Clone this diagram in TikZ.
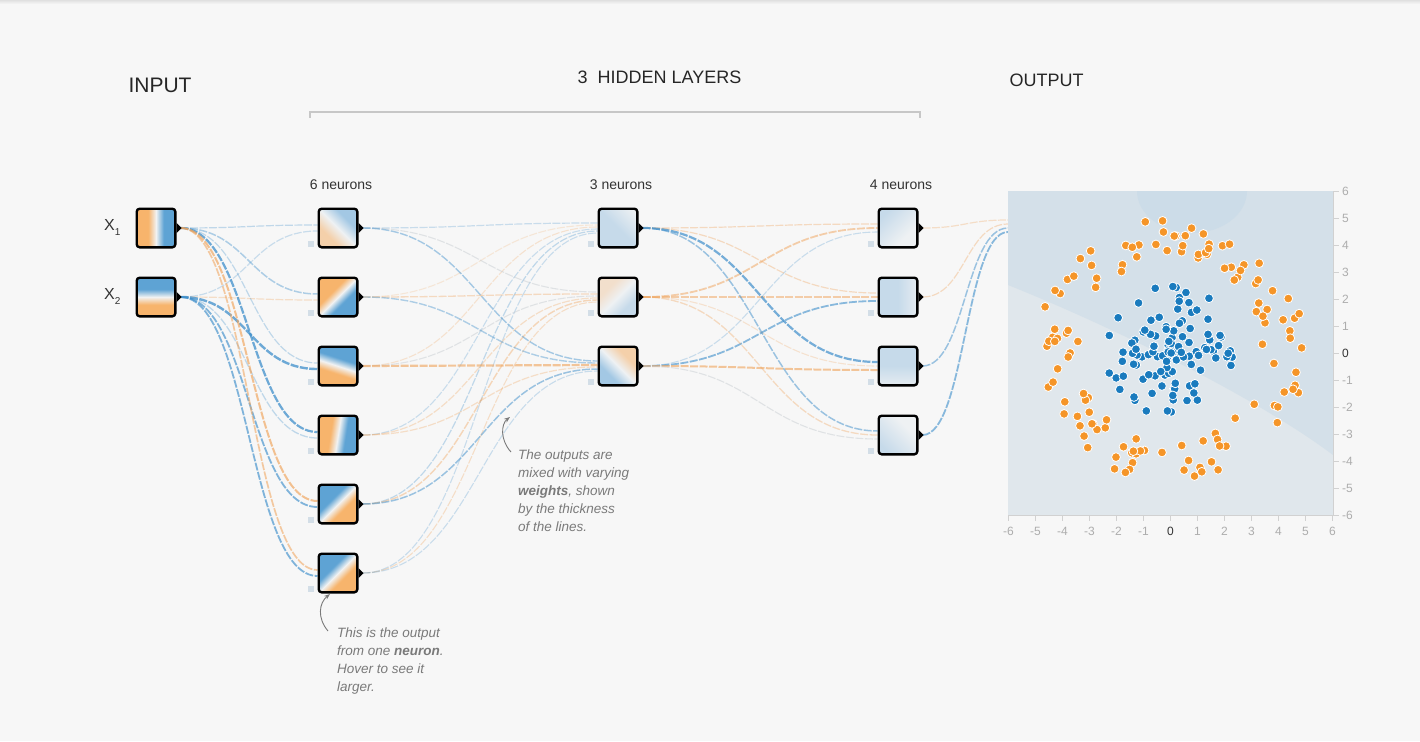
\documentclass[tikz,border=0pt]{standalone}
\usepackage{fontspec}
\setmainfont{Liberation Sans}
\usetikzlibrary{calc,arrows.meta}
\definecolor{bgc}{HTML}{F7F7F7}
\definecolor{sOr}{HTML}{F7B46C}
\definecolor{sBl}{HTML}{5EA3D4}
\definecolor{sWh}{HTML}{F1F2F2}
\definecolor{mOr}{HTML}{F4D0AA}
\definecolor{mBl}{HTML}{A3C8E4}
\definecolor{pOr}{HTML}{F2DFCC}
\definecolor{pOrL}{HTML}{F1E7DD}
\definecolor{pWh}{HTML}{EEF1F3}
\definecolor{pBl}{HTML}{C6DAEA}
\definecolor{lnBlue}{HTML}{3F8FCB}
\definecolor{lnOr}{HTML}{F0A35A}
\definecolor{lnGrey}{HTML}{C9CED3}
\definecolor{dotBlue}{HTML}{1A7BBE}
\definecolor{dotOr}{HTML}{F59528}
\definecolor{txtgrey}{HTML}{7A7A7A}
\definecolor{tickc}{HTML}{ADADAD}
\definecolor{sqc}{HTML}{D3DEE7}
\definecolor{plLight}{HTML}{E0E7EC}
\definecolor{plMid}{HTML}{D4E0E9}
\definecolor{plDark}{HTML}{CCDCE8}
\pgfdeclarehorizontalshading{hmStrong}{100bp}{color(0bp)=(sOr); color(40bp)=(sOr); color(50bp)=(sWh); color(60bp)=(sBl); color(100bp)=(sBl)}
\pgfdeclarehorizontalshading{hmMed}{100bp}{color(0bp)=(mOr); color(34bp)=(mOr); color(50bp)=(pWh); color(66bp)=(mBl); color(100bp)=(mBl)}
\pgfdeclarehorizontalshading{hmPale}{100bp}{color(0bp)=(pOr); color(33bp)=(pOr); color(50bp)=(pWh); color(67bp)=(pBl); color(100bp)=(pBl)}
\pgfdeclarehorizontalshading{hmBlueEdge}{100bp}{color(0bp)=(pBl); color(50bp)=(pBl); color(82bp)=(pWh); color(100bp)=(pOrL)}
\pgfdeclarehorizontalshading{hmVPale}{100bp}{color(0bp)=(pWh); color(35bp)=(pWh); color(75bp)=(pBl); color(100bp)=(pBl)}
\pgfdeclarelayer{bglayer}
\pgfdeclarelayer{linklayer}
\pgfsetlayers{bglayer,linklayer,main}
\begin{document}
\begin{tikzpicture}[x=1pt,y=-1pt,
  neuron/.style={draw=black, line width=2.4pt, rounded corners=3pt, minimum size=38.6pt, inner sep=0pt, shade},
  diag/.style={to path={let \p1=(\tikztostart), \p2=(\tikztotarget) in .. controls ({(\x1+\x2)/2},\y1) and ({(\x1+\x2)/2},\y2) .. (\tikztotarget)}},
  link/.style={diag, dash pattern=on 8pt off 1.5pt},
  title/.style={font=\fontsize{18}{20}\selectfont, text=black!85},
  count/.style={font=\fontsize{14}{16}\selectfont, text=black!80},
  anno/.style={font=\fontsize{13.5}{18}\selectfont\itshape, text=txtgrey, align=left, anchor=north west, inner sep=0pt},
  annarrow/.style={draw=txtgrey, line width=0.9pt, -{Stealth[length=6pt,width=4.5pt]}},
  ticklbl/.style={font=\fontsize{12}{14}\selectfont, text=tickc, inner sep=0pt},
  dotB/.style={fill=dotBlue, draw=white, line width=0.8pt},
  dotO/.style={fill=dotOr, draw=white, line width=0.8pt}
]
\begin{pgfonlayer}{bglayer}
\fill[bgc] (0,0) rectangle (1420,741);
\fill[top color=black!12, bottom color=bgc] (0,0) rectangle (1420,4);
\end{pgfonlayer}
\useasboundingbox (0,0) rectangle (1420,741);

% titles
\node[title, font=\fontsize{21}{24}\selectfont] (tin) at (160,85) {INPUT};
\node[title] (thid) at (659.5,77) {3\ \ HIDDEN LAYERS};
\node[title] (tout) at (1046.5,80) {OUTPUT};
\draw[draw=black!22, line width=1.2pt] (310,118) -- (310,112) -- (920,112) -- (920,118);
\node[count] (n6) at (341,185) {6 neurons};
\node[count] (n3) at (621,185) {3 neurons};
\node[count] (n4) at (901,185) {4 neurons};

% input labels
\node[anchor=base west, inner sep=0pt, font=\fontsize{16}{18}\selectfont, text=black!80] (lx1) at (104,230) {X\raisebox{-5pt}{\fontsize{10}{10}\selectfont 1}};
\node[anchor=base west, inner sep=0pt, font=\fontsize{16}{18}\selectfont, text=black!80] (lx2) at (104,299) {X\raisebox{-5pt}{\fontsize{10}{10}\selectfont 2}};

% neurons
\node[neuron, shading=hmStrong, shading angle=0] (x1) at (156,228) {};
\node[neuron, shading=hmStrong, shading angle=90] (x2) at (156,297) {};
\node[neuron, shading=hmMed, shading angle=45] (a1) at (338,228) {};
\node[neuron, shading=hmStrong, shading angle=-45] (a2) at (338,297) {};
\node[neuron, shading=hmStrong, shading angle=72] (a3) at (338,366) {};
\node[neuron, shading=hmStrong, shading angle=-9] (a4) at (338,435) {};
\node[neuron, shading=hmStrong, shading angle=135] (a5) at (338,504) {};
\node[neuron, shading=hmStrong, shading angle=135] (a6) at (338,573) {};
\node[neuron, shading=hmBlueEdge, shading angle=45] (b1) at (618,228) {};
\node[neuron, shading=hmPale, shading angle=-45] (b2) at (618,297) {};
\node[neuron, shading=hmMed, shading angle=225] (b3) at (618,366) {};
\node[neuron, shading=hmVPale, shading angle=135] (c1) at (898,228) {};
\node[neuron, shading=hmBlueEdge, shading angle=0] (c2) at (898,297) {};
\node[neuron, shading=hmBlueEdge, shading angle=-90] (c3) at (898,366) {};
\node[neuron, shading=hmVPale, shading angle=225] (c4) at (898,435) {};

\foreach \nn in {x1,x2,a1,a2,a3,a4,a5,a6,b1,b2,b3,c1,c2,c3,c4}
  \fill[black] (\nn.east) ++(0,-5) -- ++(5,5) -- ++(-5,5) -- cycle;
\foreach \nn in {a1,a2,a3,a4,a5,a6,b1,b2,b3,c1,c2,c3,c4}
  \fill[sqc] ([xshift=-30pt,yshift=-13pt]\nn.center) rectangle ++(6,6);

\coordinate (pin) at (1008,226);

% links
\begin{pgfonlayer}{linklayer}
\foreach \ls/\lt/\lo/\lc/\lw/\lp in {
  x1/a1/-3/lnBlue/1.2/.3, x2/a1/3/lnBlue/1.2/.25,
  x1/a2/-3/lnBlue/1.5/.4, x2/a2/3/lnOr/1.2/.3,
  x1/a3/-3/lnBlue/1.2/.3, x2/a3/3/lnBlue/2.4/.75,
  x1/a4/-3/lnBlue/2.2/.75, x2/a4/3/lnBlue/1.3/.3,
  x1/a5/-3/lnOr/2.0/.65, x2/a5/3/lnBlue/1.8/.65,
  x1/a6/-3/lnOr/1.7/.55, x2/a6/3/lnBlue/1.8/.65,
  a1/b1/-5/lnBlue/1.2/.25, a2/b1/-3/lnOr/1.1/.2, a3/b1/-1/lnOr/1.1/.25,
  a4/b1/1/lnBlue/1.1/.25, a5/b1/3/lnBlue/1.2/.3, a6/b1/5/lnBlue/1.1/.25,
  a1/b2/-5/lnGrey/1.1/.5, a2/b2/-3/lnOr/1.3/.35, a3/b2/-1/lnGrey/1.1/.5,
  a4/b2/1/lnOr/1.2/.3, a5/b2/3/lnOr/1.4/.4, a6/b2/5/lnOr/1.1/.3,
  a1/b3/-5/lnBlue/1.4/.45, a2/b3/-3/lnBlue/1.4/.4, a3/b3/-1/lnOr/2.2/.6,
  a4/b3/1/lnOr/1.2/.3, a5/b3/3/lnBlue/1.5/.5, a6/b3/5/lnBlue/1.1/.25,
  b1/c1/-4/lnOr/1.2/.35, b2/c1/0/lnOr/1.8/.5, b3/c1/4/lnBlue/1.1/.25,
  b1/c2/-4/lnOr/1.2/.35, b2/c2/0/lnOr/1.6/.5, b3/c2/4/lnBlue/1.8/.6,
  b1/c3/-4/lnBlue/2.2/.7, b2/c3/0/lnOr/1.1/.25, b3/c3/4/lnOr/2.0/.6,
  b1/c4/-4/lnBlue/1.5/.5, b2/c4/0/lnOr/1.3/.35, b3/c4/4/lnGrey/1.1/.5}
  \draw[link, draw=\lc, line width=\lw pt, draw opacity=\lp] ([xshift=4pt]\ls.east) to ([yshift={-1*(\lo)*1pt}]\lt.west);
\foreach \ls/\lo/\lc/\lw/\lp in {c1/-6/lnOr/1.2/.3, c2/-2/lnOr/1.2/.35, c3/2/lnBlue/1.5/.5, c4/6/lnBlue/1.8/.6}
  \draw[link, draw=\lc, line width=\lw pt, draw opacity=\lp] ([xshift=4pt]\ls.east) to ([yshift={-1*(\lo)*1pt}]pin);
\end{pgfonlayer}

% annotations
\node[anno] (ann1) at (518,450) {The outputs are\\mixed with varying\\\textbf{weights}, shown\\by the thickness\\of the lines.};
\node[anno] (ann2) at (337,628) {This is the output\\from one \textbf{neuron}.\\Hover to see it\\larger.};
\coordinate (ar1s) at (511,452);
\coordinate (ar1e) at (510,417);
\coordinate (ar2s) at (328,631);
\coordinate (ar2e) at (330,594);
\draw[annarrow] (ar1s) .. controls (500,440) and (501,424) .. (ar1e);
\draw[annarrow] (ar2s) .. controls (317,618) and (319,603) .. (ar2e);

% output plot
\begin{scope}
\clip (1008,191) rectangle (1333,515);
\fill[plLight] (1008,191) rectangle (1333,515);
\fill[plMid] (1008,191) -- (1333,191) -- (1333,455) .. controls (1260,400) and (1120,330) .. (1008,285) -- cycle;
\fill[plDark] (1192,191) ellipse (55 and 42);
\pgfmathsetseed{11}
\foreach \i in {1,...,125}{
  \pgfmathsetmacro\rr{3.4+1.6*rnd}
  \pgfmathsetmacro\aa{360*rnd}
  \fill[dotO] ({1170.5+27*\rr*cos(\aa)},{353-27*\rr*sin(\aa)}) circle (4.4pt);
}
\foreach \i in {1,...,125}{
  \pgfmathsetmacro\rr{2.5*rnd}
  \pgfmathsetmacro\aa{360*rnd}
  \fill[dotB] ({1170.5+27*\rr*cos(\aa)},{353-27*\rr*sin(\aa)}) circle (4.4pt);
}
\end{scope}
\node[minimum size=325pt, inner sep=0pt] (plot) at (1170.5,353) {};
\draw[black!18, line width=0.8pt] (1333,191) -- (1333,515) -- (1008,515);
\foreach \v in {-6,...,6}{
  \draw[black!18, line width=0.8pt] (1333,{353-27*\v}) -- (1339,{353-27*\v});
  \draw[black!18, line width=0.8pt] ({1170.5+27*\v},515) -- ({1170.5+27*\v},521);
  \ifnum\v=0
    \node[ticklbl, anchor=west, text=black!80] at (1342,{353-27*\v}) {\v};
    \node[ticklbl, text=black!80] at ({1170.5+27*\v},531) {\v};
  \else
    \node[ticklbl, anchor=west] at (1342,{353-27*\v}) {\v};
    \node[ticklbl] at ({1170.5+27*\v},531) {\v};
  \fi
}
\end{tikzpicture}
\end{document}
